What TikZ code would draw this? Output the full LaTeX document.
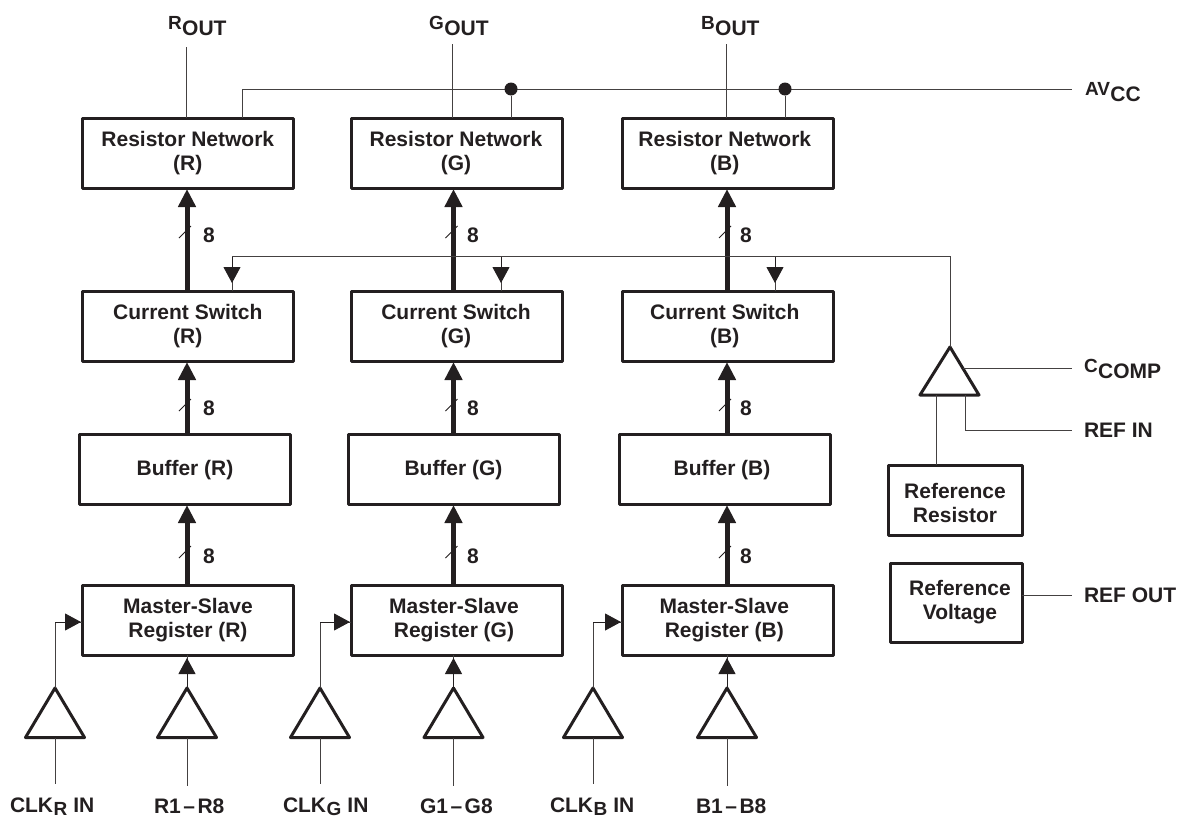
\documentclass[tikz,border=0pt]{standalone}
\usepackage{fontspec}
\setmainfont{Liberation Sans}
\usetikzlibrary{arrows.meta}
\definecolor{ink}{HTML}{231F20}
\newcommand{\tf}{\fontsize{21}{24}\selectfont\bfseries}
\newcommand{\sm}{\fontsize{19}{22}\selectfont\bfseries}
\newcommand{\up}[2]{{\sm #1}\kern0.5pt\raisebox{-6pt}{\tf #2}}
\newcommand{\dn}[1]{\kern0.5pt\raisebox{-3pt}{\sm #1}\kern6pt}
\newcommand{\gapdash}{\kern2.5pt--\kern2.5pt}
\tikzset{
  every node/.style={text=ink,font=\tf,inner sep=0pt,outer sep=0pt},
  blockbox/.style={draw=ink,line width=3pt,minimum width=211pt,minimum height=70pt,line join=round},
  boxtext/.style={align=center},
  outlabel/.style={anchor=base west},
  wire/.style={draw=ink!85,line width=1pt},
  busline/.style={draw=ink,line width=5pt,shorten >=1pt,-{Triangle[length=18pt,width=17pt]}},
  thinarrow/.style={draw=ink,line width=1pt,-{Triangle[length=16pt,width=17pt]}},
  amp/.style={draw=ink,line width=3pt,line join=round},
  slashmark/.style={draw=ink,line width=0.8pt},
  dotnode/.style={circle,fill=ink,minimum size=13pt},
}
\begin{document}
\begin{tikzpicture}[x=1pt,y=-1pt]
\useasboundingbox (0,0) rectangle (1179,817);
% one loop pass per colour channel
\foreach \c/\bx/\ux/\kx/\dx/\ox/\rt/\mt/\ft/\ol/\olx/\ot/\clx/\dlx/\ex in {
  R/187.5/187/55/232/186/187.8/188/185/R/168/47/10/154/209,
  G/456.5/453.5/320/501/452/456/454/453.5/G/429/44/283/420/473,
  B/727.5/727/593/775/726/724.8/724.3/722/B/701/44/550/696/746}{
  % blocks
  \node[blockbox] (rn\c) at (\bx,153) {};
  \node[blockbox] (cs\c) at (\bx,326) {};
  \node[blockbox] (bf\c) at (\bx-2.5,469) {};
  \node[blockbox] (ms\c) at (\bx,620) {};
  \node[boxtext] (rnt\c) at (\rt,153) {Resistor Network\\(\c)};
  \node[boxtext] (cst\c) at (\rt,326) {Current Switch\\(\c)};
  \node (bft\c) at (\ft,470) {Buffer (\c)};
  \node[boxtext] (mst\c) at (\mt,620) {Master-Slave\\Register (\c)};
  % buses
  \draw[busline] (\ux,291) -- (\ux,188);
  \draw[busline] (\ux,434) -- (\ux,361);
  \draw[busline] (\ux,585) -- (\ux,504);
  \foreach \sy/\ny in {232/235,405/408,552/556}{
    \draw[slashmark] (\ux-8,\sy+6) -- (\ux+4,\sy-6);
    \node at (\ex,\ny) {8};
  }
  % output pin
  \coordinate (oend\c) at (\ox,\ot);
  \draw[wire] (oend\c) -- (\ox,118);
  \node[outlabel] (ol\c) at (\olx,29) {\up{\ol}{OUT}};
  % input amplifiers
  \coordinate (ka\c) at (\kx,688);
  \coordinate (da\c) at (\ux,688);
  \draw[amp] (ka\c) -- (\kx-29.5,737.5) -- (\kx+29.5,737.5) -- cycle;
  \draw[amp] (da\c) -- (\ux-29.5,737.5) -- (\ux+29.5,737.5) -- cycle;
  \draw[wire] (\kx,737.5) -- (\kx,784);
  \draw[wire] (\ux,737.5) -- (\ux,786);
  \draw[wire] (ka\c) |- ([yshift=-2pt]ms\c.west);
  \draw[thinarrow,shorten >=1pt] (\kx,622) -- ([yshift=-2pt]ms\c.west);
  \draw[wire] (da\c) -- (\ux,655);
  \draw[thinarrow] (\ux,688) -- (\ux,658);
  \node[outlabel] (kl\c) at (\clx,812.5) {CLK\dn{\c}IN};
  \node[outlabel] (dl\c) at (\dlx,813) {\c1\gapdash\c8};
  % reference drop
  \coordinate (rd\c) at (\dx,256);
  \draw[wire] (rd\c) -- (\dx,291);
  \draw[thinarrow] (rd\c) -- (\dx,283);
}
% supply rail
\coordinate (railend) at (1072,89);
\coordinate (railstart) at (242,89);
\draw[wire] (railstart) -- (railend);
\draw[wire] (railstart) -- (242,118);
\node[dotnode] (dotG) at (511,89) {};
\node[dotnode] (dotB) at (785,89) {};
\draw[wire] (dotG) -- (511,118);
\draw[wire] (dotB) -- (785,118);
\node[outlabel] (avcc) at (1085,95) {\up{AV}{CC}};
% reference amplifier
\coordinate (refapex) at (950,347);
\draw[amp] (refapex) -- (920,395) -- (979,395) -- cycle;
\draw[wire] (rdR) -- (950,256) -- (refapex);
\coordinate (ccend) at (1072,368);
\coordinate (riend) at (1072,430);
\coordinate (roend) at (1072,595);
\draw[wire] (963,368) -- (ccend);
\draw[wire] (965,395) |- (riend);
\node[outlabel] (ccomp) at (1084,372) {\up{C}{COMP}};
\node[outlabel] (refin) at (1084,437) {REF IN};
\node[blockbox,minimum width=134pt] (rres) at (955,500) {};
\node[boxtext] (rrest) at (955,503) {Reference\\Resistor};
\draw[wire] (936,395) -- (936,465);
\node[blockbox,minimum width=132pt,minimum height=79pt] (rvol) at (956,602.5) {};
\node[boxtext] (rvolt) at (960,602) {Reference\\Voltage};
\draw[wire] (rvol.east |- roend) -- (roend);
\node[outlabel] (refout) at (1084,602) {REF OUT};
\end{tikzpicture}
\end{document}
